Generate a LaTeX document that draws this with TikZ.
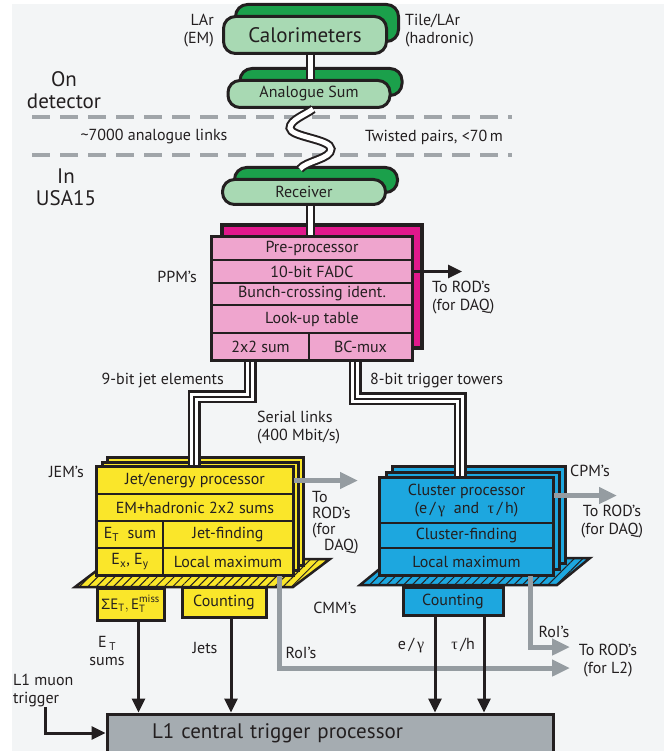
\documentclass[tikz,border=0pt]{standalone}
\usepackage{amsmath}
\usepackage{fontspec}
\setmainfont{PT Sans}
\newfontfamily\greekfont{Liberation Serif}
\newfontfamily\sigmafont{Liberation Sans}
\usetikzlibrary{calc,shadows,arrows.meta,patterns.meta}

\definecolor{bggray}{HTML}{F3F5F6}
\definecolor{calfront}{HTML}{A8D9B3}
\definecolor{calback}{HTML}{1BA04B}
\definecolor{ppmfront}{HTML}{EFA5CE}
\definecolor{ppmback}{HTML}{E1188C}
\definecolor{jemyellow}{HTML}{FAE62A}
\definecolor{cpmblue}{HTML}{1DA7DF}
\definecolor{ctpgray}{HTML}{A5ACB1}
\definecolor{roigray}{HTML}{959CA1}
\definecolor{dashgray}{HTML}{A0A5A9}
\definecolor{inkblack}{HTML}{231F20}

\begin{document}
\begin{tikzpicture}[x=1pt, y=-1pt, font=\fontsize{16}{18}\selectfont, text=inkblack,
		calbox/.style={rectangle, rounded corners=12pt, minimum width=163pt, inner sep=0pt, draw=inkblack, line width=3pt, fill=calfront,
			copy shadow={shadow xshift=12pt, shadow yshift=12pt, fill=calback, draw=inkblack, line width=3pt}},
		ppmstack/.style={rectangle, inner sep=0pt, draw=inkblack, line width=3.5pt, fill=ppmfront,
			copy shadow={shadow xshift=10pt, shadow yshift=12pt, fill=ppmback, draw=inkblack, line width=3.5pt}},
		jemstack/.style={rectangle, inner sep=0pt, draw=inkblack, line width=3.5pt, fill=jemyellow,
			copy shadow={shadow xshift=10pt, shadow yshift=10pt, fill=jemyellow, draw=inkblack, line width=3pt},
			copy shadow={shadow xshift=5pt, shadow yshift=5pt, fill=jemyellow, draw=inkblack, line width=3pt}},
		cpmstack/.style={rectangle, inner sep=0pt, draw=inkblack, line width=3.5pt, fill=cpmblue,
			copy shadow={shadow xshift=12pt, shadow yshift=12pt, fill=cpmblue, draw=inkblack, line width=3pt},
			copy shadow={shadow xshift=6pt, shadow yshift=6pt, fill=cpmblue, draw=inkblack, line width=3pt}},
		rowbox/.style={rectangle, inner sep=0pt, draw=inkblack, line width=2.5pt},
		ppmrow/.style={rowbox, fill=ppmfront},
		jemrow/.style={rowbox, fill=jemyellow},
		cpmrow/.style={rowbox, fill=cpmblue},
		cmmbox/.style={rectangle, inner sep=0pt, draw=inkblack, line width=3pt},
		twinline/.style={draw=inkblack, line width=2pt, double=white, double distance=5pt},
		bundle/.style={preaction={draw=inkblack, line width=13pt}, draw=white, line width=8pt, postaction={draw=inkblack, line width=2.5pt}},
		blackarrow/.style={draw=inkblack, line width=3pt, -{Triangle[length=14pt, width=13pt]}},
		grayarrow/.style={draw=roigray, line width=5pt, -{Triangle[length=18pt, width=16pt]}},
		platform/.style={preaction={fill=#1}, pattern={Lines[angle=45, distance=6pt, line width=1pt]}, pattern color=inkblack, draw=inkblack, line width=2.5pt},
		sepline/.style={dashgray, line width=4.5pt, dash pattern=on 18pt off 10pt},
		lbl/.style={inner sep=0pt, align=center},
		bigfont/.style={font=\fontsize{21}{22}\selectfont}]
	\useasboundingbox (0,0) rectangle (664,751);
	\fill[bggray] (12,4) rectangle (664,751);
	
	% on detector / USA15 separators
	\draw[sepline] (32,117) -- (512,117);
	\draw[sepline] (32,155) -- (512,155);
	
	\node (cal) [calbox, minimum height=37pt, bigfont] at (305,35) {Calorimeters};
	\node (anasum) [calbox, minimum width=162pt, minimum height=27pt] at (309,94) {Analogue Sum};
	\node (receiver) [calbox, minimum height=25pt] at (304,192) {Receiver};
	
	\node (lar) [lbl, anchor=east, align=right] at (214,31) {LAr\\(EM)};
	\node (tile) [lbl, anchor=west, align=left] at (405,31) {Tile/LAr\\(hadronic)};
	\node (ondet) [lbl, bigfont] at (64,90) {On\\detector};
	\node (usa) [lbl, bigfont] at (66,187) {In\\USA15};
	\node (links) [lbl] at (154,137) {\textasciitilde7000 analogue links};
	\node (twisted) [lbl] at (434,137) {Twisted pairs, <70\,m};
	
	% pre-processor module
	\node (ppm) [ppmstack, minimum width=200pt, minimum height=123pt] at (312,298.5) {};
	\node (pre) [ppmrow, minimum width=200pt, minimum height=23pt] at (312,248.5) {Pre-processor};
	\node (fadc) [ppmrow, minimum width=200pt, minimum height=23pt] at (312,271.5) {10-bit FADC};
	\node (bcid) [ppmrow, minimum width=200pt, minimum height=22pt] at (312,294) {Bunch-crossing ident.};
	\node (lut) [ppmrow, minimum width=200pt, minimum height=28pt] at (312,319) {Look-up table};
	\node (sum) [ppmrow, minimum width=97pt, minimum height=27pt] at (260.5,346.5) {2x2 sum};
	\node (bcmux) [ppmrow, minimum width=103pt, minimum height=27pt] at (360.5,346.5) {BC-mux};
	\node (ppmlbl) [lbl, anchor=east] at (197,277) {PPM's};
	
	\draw[twinline] ([xshift=5pt]cal.south) -- ([xshift=5pt]cal.south |- anasum.north);
	\draw[twinline] ([xshift=4pt]anasum.south) .. controls +(-8,6) and +(0,-8) .. ++(-23,19)
		.. controls +(0,9) and +(0,-10) .. ++(41,21)
		.. controls +(0,10) and +(6,-8) .. ++(-31,20);
	\draw[twinline] ([xshift=6pt]receiver.south) -- ([xshift=6pt]receiver.south |- ppm.north);
	
	\coordinate (ppmdaq) at (462,271.5);
	\draw[blackarrow] (fadc.east) -- (ppmdaq);
	\node (ppmdaqlbl) [lbl, anchor=north west, align=left] at (432,281) {To ROD's\\(for DAQ)};
	
	% jet/energy modules
	\draw[platform=jemyellow] (75,587) -- (293,587) -- (330,559) -- (112,559) -- cycle;
	\node (jem) [jemstack, minimum width=196pt, minimum height=108pt] at (195,521) {};
	\node (jetproc) [jemrow, minimum width=196pt, minimum height=27pt] at (195,480.5) {Jet/energy processor};
	\node (emhad) [jemrow, minimum width=196pt, minimum height=27pt] at (195,507.5) {EM+hadronic 2x2 sums};
	\node (etsum) [jemrow, minimum width=66pt, minimum height=27pt] at (130,534.5) {E\textsubscript{T}\ \ sum};
	\node (jetfind) [jemrow, minimum width=130pt, minimum height=27pt] at (228,534.5) {Jet-finding};
	\node (exey) [jemrow, minimum width=66pt, minimum height=27pt] at (130,561.5) {E\textsubscript{x}, E\textsubscript{y}};
	\node (jemlocal) [jemrow, minimum width=130pt, minimum height=27pt] at (228,561.5) {Local maximum};
	\node (jemlbl) [lbl, anchor=east] at (84,472) {JEM's};
	
	% cluster processor modules
	\draw[platform=cpmblue] (360,585) -- (557,585) -- (590,558) -- (393,558) -- cycle;
	\node (cpm) [cpmstack, minimum width=173pt, minimum height=97pt] at (466.5,526.5) {};
	\node (clproc) [cpmrow, minimum width=173pt, minimum height=45pt, align=center] at (466.5,500.5) {Cluster processor\\(e\,/\,{\greekfont γ} \ and \ {\greekfont τ}\,/\,h)};
	\node (clfind) [cpmrow, minimum width=173pt, minimum height=25pt] at (466.5,535.5) {Cluster-finding};
	\node (cplocal) [cpmrow, minimum width=173pt, minimum height=27pt] at (466.5,561.5) {Local maximum};
	\node (cpmlbl) [lbl, anchor=west] at (570,471) {CPM's};
	
	\draw[bundle] ([xshift=-62pt]ppm.south) -- ++(0,35) -| ([xshift=-1pt]jem.north);
	\draw[bundle] ([xshift=43pt]ppm.south) -- ++(0,37) -| ([xshift=-6.5pt]cpm.north);
	\node (jetel) [lbl, anchor=east] at (224,380) {9-bit jet elements};
	\node (trigtow) [lbl, anchor=west] at (370,380) {8-bit trigger towers};
	\node (serial) [lbl, anchor=north west, align=left] at (257,411) {Serial links\\(400 Mbit/s)};
	
	\coordinate (jemdaq) at (358,480.5);
	\draw[grayarrow] (jetproc.east) -- (jemdaq);
	\node (jemdaqlbl) [lbl, anchor=north west, align=left, font=\fontsize{16}{16}\selectfont] at (312,491) {To\\ROD's\\(for\\\hspace*{12pt}DAQ)};
	\coordinate (cpmdaq) at (617,495.5);
	\draw[grayarrow] ([yshift=5pt]clproc.east) -- (cpmdaq);
	\node (cpmdaqlbl) [lbl] at (612,522) {To ROD's\\(for DAQ)};
	
	% common merger modules
	\node (etmiss) [cmmbox, fill=jemyellow, minimum width=67pt, minimum height=32pt, font=\fontsize{15}{16}\selectfont] at (130.5,604) {{\sigmafont Σ}$\text{E}_{\text{T}},\text{E}_{\text{T}}^{\text{miss}}$};
	\node (jemcount) [cmmbox, fill=jemyellow, minimum width=84pt, minimum height=30pt] at (224,602) {Counting};
	\node (cpmcount) [cmmbox, fill=cpmblue, minimum width=100pt, minimum height=28pt] at (453,601) {Counting};
	\node (cmmlbl) [lbl] at (335,608) {CMM's};
	
	\node (ctp) [cmmbox, fill=ctpgray, text width=446pt, inner xsep=0pt, minimum height=38pt, align=left, bigfont] at (330,733) {\hspace*{45pt}L1 central trigger processor};
	
	% RoI's to L2
	\coordinate (roicpm) at (570,647);
	\coordinate (roijem) at (570,668);
	\draw[grayarrow] ([xshift=51pt]jemlocal.south) |- (roijem);
	\draw[grayarrow] ([xshift=64pt]cplocal.south) |- (roicpm);
	\node (roijemlbl) [lbl] at (301,653) {RoI's};
	\node (roicpmlbl) [lbl] at (554,632) {RoI's};
	\node (l2lbl) [lbl] at (608,661) {To ROD's\\(for L2)};
	
	% real-time data to the CTP
	\draw[blackarrow] ([xshift=8pt]etmiss.south) -- ([xshift=8pt]etmiss.south |- ctp.north);
	\draw[blackarrow] ([xshift=7pt]jemcount.south) -- ([xshift=7pt]jemcount.south |- ctp.north);
	\draw[blackarrow] ([xshift=-18pt]cpmcount.south) -- ([xshift=-18pt]cpmcount.south |- ctp.north);
	\draw[blackarrow] ([xshift=31pt]cpmcount.south) -- ([xshift=31pt]cpmcount.south |- ctp.north);
	\node (etlbl) [lbl] at (107,651) {E\,\textsubscript{T}\\sums};
	\node (jetslbl) [lbl] at (205,648) {Jets};
	\node (emlbl) [lbl] at (411,645) {e\,/\,{\greekfont γ}};
	\node (taulbl) [lbl] at (463,645) {{\greekfont τ}\,/h};
	
	\node (muon) [lbl, anchor=north west, align=left] at (13,674) {L1 muon\\trigger};
	\draw[blackarrow] ([xshift=2pt]muon.south) |- (ctp.west);
\end{tikzpicture}
\end{document}
